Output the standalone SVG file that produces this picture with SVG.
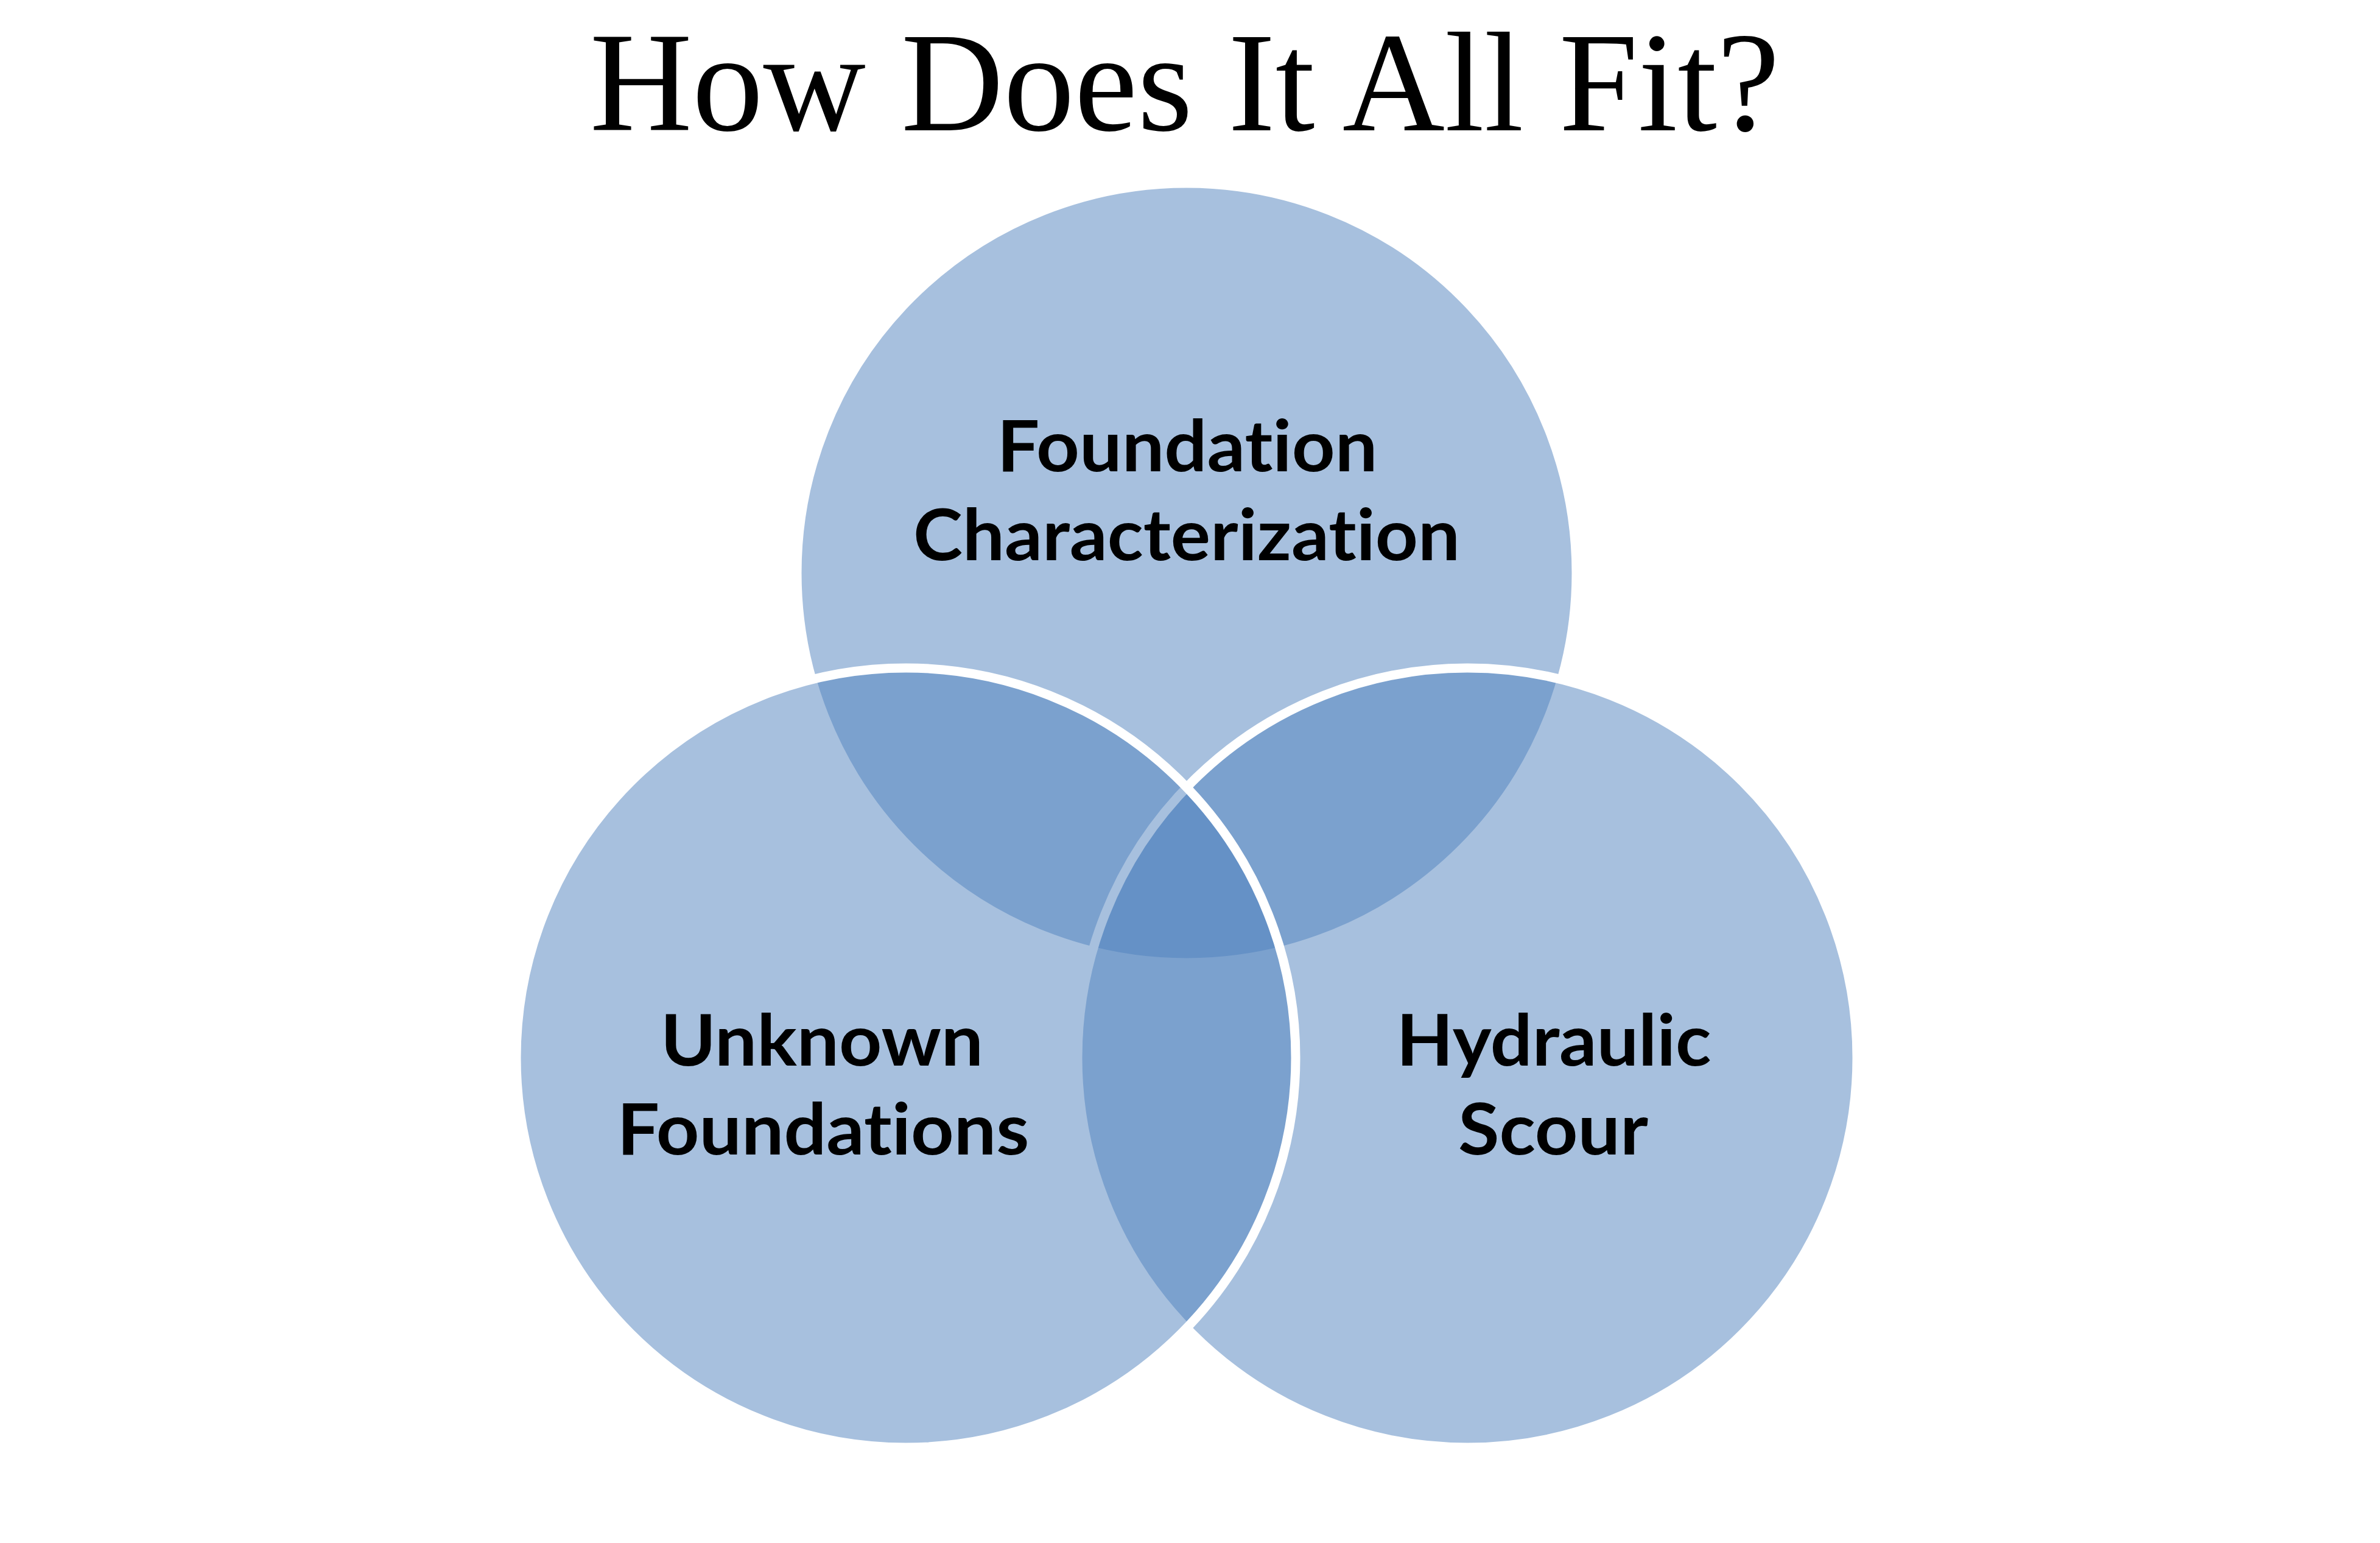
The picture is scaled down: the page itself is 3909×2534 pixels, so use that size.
<svg xmlns="http://www.w3.org/2000/svg" width="3909" height="2534" viewBox="0 0 3909 2534">
  <style>
    .venn { fill: #4F81BD; fill-opacity: 0.5; stroke: #FFFFFF; stroke-width: 15; }
    .label { font-family: Lato, "Open Sans", "Liberation Sans", sans-serif; font-weight: bold; font-size: 116px; fill: #000000; text-anchor: middle; font-variant-ligatures: none; font-feature-settings: "liga" 0, "clig" 0; }
    .title { font-family: "Liberation Serif", "Times New Roman", serif; font-size: 233px; fill: #000000; text-anchor: middle; }
  </style>
  <rect x="0" y="0" width="3909" height="2534" fill="#FFFFFF"/>
  <text id="title" class="title" x="1946" y="214">How Does It All Fit?</text>
  <g id="node-foundation-characterization">
    <circle class="venn" cx="1949" cy="941" r="640"/>
    <text class="label" x="1950" y="774" textLength="625" lengthAdjust="spacingAndGlyphs">Foundation</text>
    <text class="label" x="1949" y="920" textLength="898" lengthAdjust="spacingAndGlyphs">Characterization</text>
  </g>
  <g id="node-hydraulic-scour">
    <circle class="venn" cx="2410" cy="1737" r="640"/>
    <text class="label" x="2552" y="1750" textLength="517" lengthAdjust="spacingAndGlyphs">Hydraulic</text>
    <text class="label" x="2551" y="1896" textLength="312" lengthAdjust="spacingAndGlyphs">Scour</text>
  </g>
  <g id="node-unknown-foundations">
    <circle class="venn" cx="1488" cy="1737" r="640"/>
    <text class="label" x="1350" y="1750" textLength="530" lengthAdjust="spacingAndGlyphs">Unknown</text>
    <text class="label" x="1352" y="1896" textLength="677" lengthAdjust="spacingAndGlyphs">Foundations</text>
  </g>
</svg>
